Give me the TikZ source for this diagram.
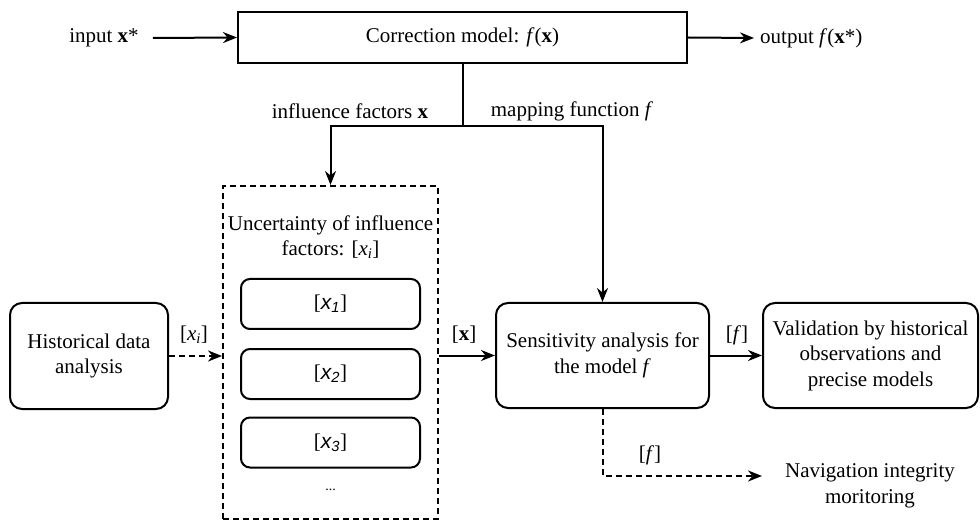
\documentclass[tikz,border=0pt]{standalone}
\usepackage{fontspec}
\setmainfont{Liberation Serif}
\setsansfont{Liberation Sans}
\newfontfamily\tmsfont{Liberation Serif}
\usetikzlibrary{arrows.meta}
\newcommand{\ivar}[1]{[{\sffamily\itshape x}\textsubscript{\sffamily\itshape #1}]}
\begin{document}
\begin{tikzpicture}[x=1pt,y=-1pt,
  every node/.style={font=\tmsfont\fontsize{21}{25.5}\selectfont},
  plainbox/.style={draw,line width=2pt,inner sep=0pt,align=center},
  rbox/.style={draw,line width=2pt,rounded corners=12pt,inner sep=0pt,align=center},
  dbox/.style={draw,line width=2pt,dash pattern=on 6pt off 4pt,inner sep=0pt},
  ln/.style={line width=2pt},
  arr/.style={line width=2pt,-{Stealth[length=14pt,width=11pt]}},
  dsh/.style={dash pattern=on 6pt off 4pt},
  lbl/.style={inner sep=0pt}
]
\useasboundingbox (0,0) rectangle (980,521);

% top model box
\node[plainbox,minimum width=449pt,minimum height=51pt] (corr) at (462.5,37.5) {Correction model: \textit{f}(\textbf{x})};
\node[lbl] (in) at (104,38) {input \textbf{x}*};
\node[lbl,anchor=west] (out) at (760,38) {output \textit{f}(\textbf{x}*)};
\draw[arr] ([xshift=14pt]in.east) -- (corr.west);
\draw[arr] (corr.east) -- ([xshift=-6pt]out.west);

% uncertainty box
\node[dbox,minimum width=215pt,minimum height=333pt] (unc) at (330.5,352.5) {};
\node[lbl,align=center] (unctitle) at (330.5,237) {Uncertainty of influence\\factors: [\textit{x}\textsubscript{\textit{i}}]};
\node[rbox,rounded corners=9pt,minimum width=179pt,minimum height=50pt] (x1) at (330.5,304) {\ivar{1}};
\node[rbox,rounded corners=9pt,minimum width=179pt,minimum height=50pt] (x2) at (330.5,374) {\ivar{2}};
\node[rbox,rounded corners=9pt,minimum width=179pt,minimum height=50pt] (x3) at (330.5,442.5) {\ivar{3}};
\node[lbl,font=\tmsfont\fontsize{14}{16}\selectfont] (dots) at (330.5,490) {...};

% other boxes
\node[rbox,minimum width=158pt,minimum height=106pt] (hist) at (89,356) {Historical data\\analysis};
\node[rbox,minimum width=213pt,minimum height=105pt] (sens) at (602.5,355.5) {Sensitivity analysis for\\the model \textit{f}};
\node[rbox,minimum width=215pt,minimum height=105pt] (valid) at (870.5,355.5) {Validation by historical\\observations and\\precise models};
\node[lbl,align=center] (nav) at (870,486) {Navigation integrity\\moritoring};

% branch from correction model
\coordinate (split) at (corr.south |- 0,126);
\draw[ln] (corr.south) -- (split);
\draw[arr] (split) -| (unc.north);
\draw[arr] (split) -| (sens.north);
\node[lbl] (lif) at (350,111) {influence factors \textbf{x}};
\node[lbl] (lmf) at (572,111) {mapping function \textit{f}};

% connectors
\draw[arr,dsh] (hist.east) -- (hist.east -| unc.west);
\node[lbl] (lxi) at (194,335) {[\textit{x}\textsubscript{\textit{i}}]};
\draw[arr] (sens.west -| unc.east) -- (sens.west);
\node[lbl] (lx) at (464,335) {[\textbf{x}]};
\draw[arr] (sens.east) -- (valid.west);
\node[lbl] (lf1) at (737,335) {[\textit{f}]};
\coordinate (navtip) at (762,476);
\draw[arr,dsh] (sens.south) |- (navtip);
\node[lbl] (lf2) at (650,455) {[\textit{f}]};
\end{tikzpicture}
\end{document}
